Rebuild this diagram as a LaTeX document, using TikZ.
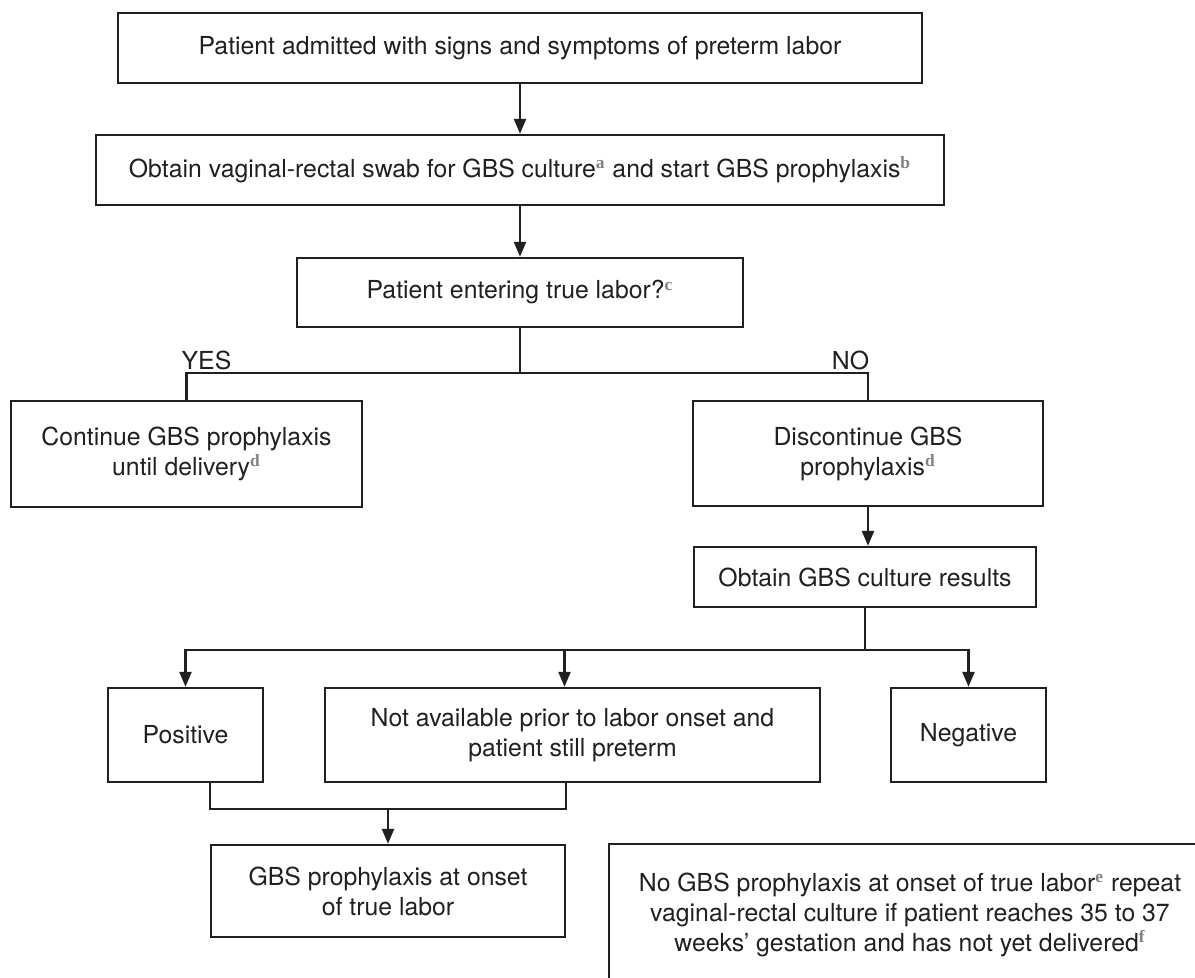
\documentclass[tikz,border=0pt]{standalone}
\usepackage{fontspec}
\setmainfont{TeX Gyre Heros}
\newfontfamily\fnfont{Liberation Serif}
\usetikzlibrary{arrows.meta}
\definecolor{ink}{HTML}{231F20}
\definecolor{fngray}{HTML}{808080}
\newcommand{\fn}[1]{\textsuperscript{\fnfont\bfseries\color{fngray}#1}}
\tikzset{
  box/.style={draw,rectangle,align=center,inner sep=2pt,font=\fontsize{12.4}{15}\selectfont},
  lbl/.style={inner sep=0pt,font=\fontsize{12.4}{15}\selectfont},
  arr/.style={-{Triangle[length=7.5pt,width=6pt]}}
}
\begin{document}
\begin{tikzpicture}[x=0.5pt,y=-0.5pt,line width=1.2pt,color=ink]
  \useasboundingbox (0,0) rectangle (1195,978);
  \node[box,minimum width=402pt,minimum height=35pt] (1) at (520,48) {Patient admitted with signs and symptoms of preterm labor};
  \node[box,minimum width=424pt,minimum height=35pt] (2) at (520,170) {Obtain vaginal-rectal swab for GBS culture\fn{a} and start GBS prophylaxis\fn{b}};
  \node[box,minimum width=223pt,minimum height=34.5pt] (3) at (520,292.5) {Patient entering true labor?\fn{c}};
  \node[box,minimum width=175.5pt,minimum height=53pt] (41) at (186.5,454) {Continue GBS prophylaxis\\until delivery\fn{d}};
  \node[box,minimum width=175pt,minimum height=52.5pt] (42) at (868,453.5) {Discontinue GBS\\prophylaxis\fn{d}};
  \node[box,minimum width=171pt,minimum height=30pt] (5) at (865,577) {Obtain GBS culture results};
  \node[box,minimum width=77.5pt,minimum height=47pt] (61) at (185.5,735) {Positive};
  \node[box,minimum width=247.5pt,minimum height=47pt] (62) at (572.5,735) {Not available prior to labor onset and\\patient still preterm};
  \node[box,minimum width=77.5pt,minimum height=47pt] (63) at (968.5,735) {Negative};
  \node[box,minimum width=177pt,minimum height=46pt] (71) at (388,891) {GBS prophylaxis at onset\\of true labor};
  \node[box,minimum width=301pt,minimum height=71pt] (72) at (910,915) {No GBS prophylaxis at onset of true labor\fn{e} repeat\\vaginal-rectal culture if patient reaches 35 to 37\\weeks’ gestation and has not yet delivered\fn{f}};
  \node[lbl] (yes) at (206.5,360) {YES};
  \node[lbl] (no) at (850.5,360) {NO};
  \coordinate (f3) at (520,373);
  \coordinate (f5) at (865,650);
  \coordinate (j6) at (388,809);
  \draw[arr] (1) -- (2);
  \draw[arr] (2) -- (3);
  \draw (3.south) -- (f3) -| (41.north);
  \draw (f3) -| (42.north);
  \draw[arr] (42.south) -- (42.south |- 5.north);
  \draw (5.south) -- (f5);
  \draw[arr] (f5) -| (61.north);
  \draw[arr] (f5) -| ([xshift=-4pt]62.north);
  \draw[arr] (f5) -| (63.north);
  \draw (61.south -| 71.west) |- (j6) -| (62.south -| 71.east);
  \draw[arr] (j6) -- (71.north);
\end{tikzpicture}
\end{document}
